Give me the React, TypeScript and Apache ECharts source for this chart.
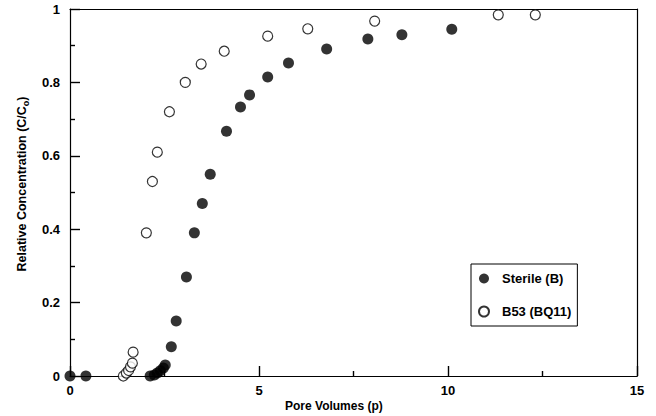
import React, { useEffect, useRef } from "react";
import * as echarts from "echarts";

const sterileX = [0, 0.42, 2.12, 2.23, 2.31, 2.39, 2.47, 2.52, 2.68, 2.81, 3.08, 3.29, 3.5, 3.71, 4.14, 4.51, 4.75, 5.23, 5.78, 6.79, 7.88, 8.78, 10.1];
const sterileY = [0, 0, 0, 0.003, 0.008, 0.014, 0.022, 0.03, 0.08, 0.15, 0.27, 0.39, 0.47, 0.55, 0.667, 0.733, 0.766, 0.815, 0.853, 0.891, 0.918, 0.93, 0.945];

const b53X = [1.41, 1.49, 1.55, 1.6, 1.65, 1.67, 2.02, 2.18, 2.31, 2.63, 3.05, 3.47, 4.08, 5.23, 6.29, 8.06, 11.33, 12.31];
const b53Y = [0, 0.008, 0.015, 0.025, 0.035, 0.065, 0.39, 0.53, 0.61, 0.72, 0.8, 0.85, 0.885, 0.926, 0.946, 0.967, 0.984, 0.984];

const seriesNames = ["Sterile (B)", "B53 (BQ11)"];
const xTitle = "Pore Volumes (p)";

export default function App() {
  const ref = useRef<HTMLDivElement>(null);
  useEffect(() => {
    if (!ref.current) return;
    const chart = echarts.init(ref.current, undefined, { renderer: "svg" });
    const font = "'Liberation Sans', Arial, sans-serif";
    const line = { show: true, onZero: false, lineStyle: { color: "#000", width: 1.2 } };
    const tick = { show: true, inside: true, length: 10, lineStyle: { color: "#000", width: 1.4 } };
    const minor = { show: true, splitNumber: 2, length: 5, lineStyle: { color: "#000", width: 1.4 } };
    const frameAxis = {
      type: "value",
      axisLine: line,
      axisTick: { show: false },
      minorTick: { show: false },
      axisLabel: { show: false },
      splitLine: { show: false },
    };
    chart.setOption({
      animation: false,
      backgroundColor: "#fff",
      textStyle: { fontFamily: font },
      grid: { left: 70, right: 19, top: 9, bottom: 40, show: false },
      legend: {
        orient: "vertical",
        left: 471,
        top: 264,
        borderColor: "#000",
        borderWidth: 1,
        padding: [8, 6, 8, 7],
        itemGap: 20,
        itemWidth: 10,
        itemHeight: 10,
        textStyle: { fontFamily: font, fontWeight: "bold", fontSize: 13, color: "#000", padding: [0, 0, 0, 8] },
        data: seriesNames,
      },
      xAxis: [
        {
          type: "value",
          position: "bottom",
          min: 0,
          max: 15,
          interval: 5,
          axisLine: line,
          axisTick: tick,
          minorTick: minor,
          splitLine: { show: false },
          minorSplitLine: { show: false },
          axisLabel: { show: true, color: "#000", fontWeight: "bold", fontSize: 13, margin: 8, fontFamily: font },
        },
        { ...frameAxis, position: "top", min: 0, max: 15 },
      ],
      yAxis: [
        {
          type: "value",
          position: "left",
          min: 0,
          max: 1,
          interval: 0.2,
          axisLine: line,
          axisTick: tick,
          minorTick: minor,
          splitLine: { show: false },
          minorSplitLine: { show: false },
          axisLabel: {
            show: true,
            color: "#000",
            fontWeight: "bold",
            fontSize: 13,
            margin: 10,
            fontFamily: font,
            formatter: (v: number) => String(+v.toFixed(1)),
          },
        },
        { ...frameAxis, position: "right", min: 0, max: 1 },
      ],
      graphic: [
        {
          type: "text",
          left: 285,
          top: 400,
          style: { text: xTitle, font: `bold 12px ${font}`, fill: "#000" },
        },
        {
          type: "text",
          x: 22,
          y: 184,
          rotation: Math.PI / 2,
          style: {
            text: "Relative Concentration (C/C{sub|o})",
            font: `bold 12.5px ${font}`,
            fill: "#000",
            align: "center",
            verticalAlign: "middle",
            rich: {
              sub: { fontSize: 9, fontWeight: "bold", fontFamily: font, padding: [8, 0, 0, 0] },
            },
          },
        },
      ],
      series: [
        {
          name: seriesNames[0],
          type: "scatter",
          symbol: "circle",
          symbolSize: 11,
          clip: false,
          z: 3,
          itemStyle: { color: "#000" },
          data: sterileX.map((x, i) => [x, sterileY[i]]),
        },
        {
          name: seriesNames[1],
          type: "scatter",
          symbol: "circle",
          symbolSize: 10,
          clip: false,
          z: 3,
          itemStyle: { color: "#fff", borderColor: "#000", borderWidth: 1.2 },
          data: b53X.map((x, i) => [x, b53Y[i]]),
        },
      ],
    });
    return () => chart.dispose();
  }, []);
  return <div ref={ref} style={{ position: "fixed", left: 0, top: 0, width: 656, height: 416 }} />;
}
